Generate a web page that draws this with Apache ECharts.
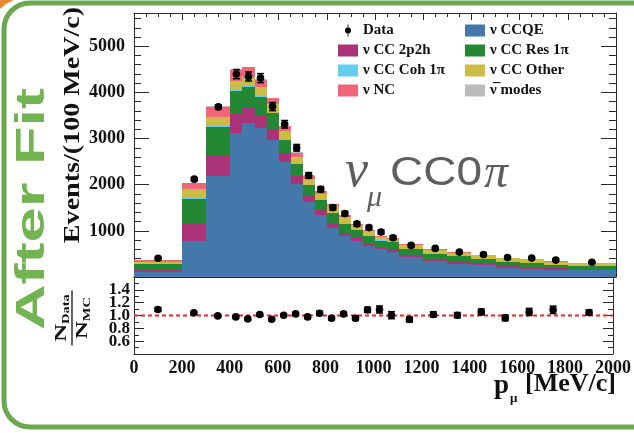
<!DOCTYPE html>
<html><head><meta charset="utf-8">
<script src="https://cdn.jsdelivr.net/npm/echarts@6/dist/echarts.min.js"></script>
<style>html,body{margin:0;padding:0;background:#fff}#c{width:634px;height:433px}</style>
</head><body><div id="c"></div>
<script>
// ---- data ----
const binEdges = [0,200,300,400,450,500,550,600,650,700,750,800,850,900,950,1000,1050,1100,1200,1300,1400,1500,1600,1700,1800,2000];
const ccqe    = [105,787,2185,3113,3331,3222,2967,2496,2011,1626,1337,1070,880,790,663,600,550,430,337,290,250,199,178,156,150];
const cc2p2h  = [60,370,441,413,339,289,233,182,174,131,109,100,81,76,59,55,55,50,43,40,36,37,36,36,30];
const ccRes   = [115,543,631,507,456,398,348,289,254,232,232,217,196,152,174,135,145,130,124,115,109,86,94,72,52];
const ccCoh   = [1,6,8,8,7,6,5,4,4,3,3,2,2,2,2,1,1,1,1,1,1,0,0,0,0];
const ccOther = [54,190,209,216,197,211,197,199,162,134,128,144,141,98,91,69,69,89,90,84,74,83,75,64,66];
const ncVals  = [40,140,210,230,210,150,125,100,85,70,55,45,38,32,28,25,22,18,15,13,11,10,9,8,7];
const antiNu  = [3,10,15,18,18,16,14,12,10,8,7,6,5,5,4,4,4,3,3,3,2,2,2,2,2];
const dataVals = [406,2120,3685,4396,4344,4309,3692,3309,2800,2200,1902,1504,1374,1150,1070,974,852,685,620,540,489,424,409,366,318];
const dataErr  = [10,32,45,100,98,98,88,82,72,62,58,52,50,46,45,44,41,26,25,23,22,20,20,19,13];
const ratioVals = [1.094,1.041,0.994,0.978,0.947,1.016,0.942,1.005,1.025,0.978,1.036,0.958,1.025,0.958,1.088,1.094,1.005,0.938,1.016,1.005,1.056,0.962,1.056,1.088,1.047];
const ratioErr  = [0.03,0.02,0.02,0.02,0.02,0.02,0.02,0.02,0.025,0.025,0.03,0.03,0.03,0.035,0.04,0.055,0.055,0.04,0.04,0.04,0.045,0.045,0.055,0.058,0.04];
const yTickLabels = ['1000','2000','3000','4000','5000'];
const rTickLabels = ['0.6','0.8','1.0','1.2','1.4'];

const components = [
  {name:'ν CCQE',       vals: ccqe,    color:'#4477AA'},
  {name:'ν CC 2p2h',    vals: cc2p2h,  color:'#AA3377'},
  {name:'ν CC Res 1π',  vals: ccRes,   color:'#228833'},
  {name:'ν CC Coh 1π',  vals: ccCoh,   color:'#66CCEE'},
  {name:'ν CC Other',   vals: ccOther, color:'#CCBB44'},
  {name:'ν NC',         vals: ncVals,  color:'#EE6677'},
  {name:'antinu',       vals: antiNu,  color:'#BBBBBB'}
];

const serif = '"Liberation Serif","DejaVu Serif",serif';
const frameCol = '#2a2a2a';

function histItem(params, api){
  const a = api.coord([api.value(0), api.value(3)]);
  const b = api.coord([api.value(1), api.value(2)]);
  const x0 = Math.round(a[0]), x1 = Math.round(b[0]);
  const y0 = Math.round(a[1]), y1 = Math.round(b[1]);
  return {type:'rect', shape:{x:x0, y:y0, width:x1-x0, height:y1-y0}, style:{fill:api.visual('color')}};
}
function pointItem(params, api){
  const x = api.value(0), v = api.value(1), e = api.value(2);
  const c = api.coord([x, v]);
  const hi = api.coord([x, v+e]);
  const lo = api.coord([x, v-e]);
  return {type:'group', children:[
    {type:'line', shape:{x1:c[0], y1:hi[1], x2:c[0], y2:lo[1]}, style:{stroke:'#000', lineWidth:2}},
    {type:'line', shape:{x1:c[0]-3.5, y1:hi[1], x2:c[0]+3.5, y2:hi[1]}, style:{stroke:'#000', lineWidth:1.5}},
    {type:'line', shape:{x1:c[0]-3.5, y1:lo[1], x2:c[0]+3.5, y2:lo[1]}, style:{stroke:'#000', lineWidth:1.5}},
    {type:'circle', shape:{cx:c[0], cy:c[1], r:3.8}, style:{fill:'#000'}}
  ]};
}

const series = [];
const cum = binEdges.slice(1).map(()=>0);
components.forEach(comp=>{
  const d = comp.vals.map((v,i)=>{
    const lo = cum[i]; cum[i] += v;
    return [binEdges[i], binEdges[i+1], lo, cum[i]];
  });
  series.push({type:'custom', name:comp.name, xAxisIndex:0, yAxisIndex:0, renderItem:histItem,
    itemStyle:{color:comp.color}, data:d, clip:true, silent:true, encode:{x:[0,1], y:[2,3]}});
});
const centers = binEdges.slice(1).map((e,i)=>(binEdges[i]+e)/2);
series.push({type:'custom', name:'Data', xAxisIndex:0, yAxisIndex:0, renderItem:pointItem,
  itemStyle:{color:'#000'}, data:dataVals.map((v,i)=>[centers[i], v, dataErr[i]]), z:5, clip:true, encode:{x:0,y:1}});
series.push({type:'line', xAxisIndex:2, yAxisIndex:2, data:[[0,1],[2000,1]], symbol:'none', silent:true,
  lineStyle:{color:'#e8262b', width:2.2, type:[4,3]}, z:2});
series.push({type:'custom', name:'ratio', xAxisIndex:2, yAxisIndex:2, renderItem:pointItem,
  itemStyle:{color:'#000'}, data:ratioVals.map((v,i)=>[centers[i], v, ratioErr[i]]), z:5, clip:true, encode:{x:0,y:1}});

const dataIcon = 'path://M4.3,0h1.4v5h-1.4z M4.3,15h1.4v5h-1.4z M0,10a5,5 0 1,0 10,0a5,5 0 1,0 -10,0z';
const legendText = {fontFamily:serif, fontWeight:'bold', fontSize:15, color:'#111'};

function xAxisBase(grid, pos, labels, ticks){
  return {type:'value', gridIndex:grid, position:pos, min:0, max:2000, interval:200,
    axisLine:{show:true, onZero:false, lineStyle:{color:frameCol, width:1}},
    axisTick:{show:ticks, inside:true, length:7, lineStyle:{color:frameCol}},
    minorTick:{show:ticks, splitNumber:4, length:4, lineStyle:{color:frameCol}},
    splitLine:{show:false}, minorSplitLine:{show:false},
    axisLabel:{show:labels, margin:5, fontFamily:serif, fontWeight:'bold', fontSize:18, color:'#111',
      formatter:v=>String(Math.round(v))}};
}

const option = {
  animation:false,
  backgroundColor:'#fff',
  grid:[{left:134, right:18, top:13, height:264},{left:134, right:18, top:277, height:77}],
  xAxis:[xAxisBase(0,'bottom',false,true), xAxisBase(0,'top',false,true),
         xAxisBase(1,'bottom',true,false), xAxisBase(1,'top',false,false)],
  yAxis:[
    {type:'value', gridIndex:0, position:'left', min:0, max:5720, interval:1000,
     axisLine:{show:true, onZero:false, lineStyle:{color:frameCol}},
     axisTick:{show:true, inside:true, length:15, lineStyle:{color:frameCol}},
     minorTick:{show:true, splitNumber:5, length:7, lineStyle:{color:frameCol}},
     splitLine:{show:false},
     axisLabel:{margin:9, fontFamily:serif, fontWeight:'bold', fontSize:18, color:'#111',
       formatter:v=>{const s=String(Math.round(v)); return yTickLabels.indexOf(s)>=0?s:'';}}},
    {type:'value', gridIndex:0, position:'right', min:0, max:5720, interval:1000,
     axisLine:{show:true, onZero:false, lineStyle:{color:frameCol}},
     axisTick:{show:true, inside:true, length:15, lineStyle:{color:frameCol}},
     minorTick:{show:true, splitNumber:5, length:7, lineStyle:{color:frameCol}},
     splitLine:{show:false}, axisLabel:{show:false}},
    {type:'value', gridIndex:1, position:'left', min:0.4, max:1.6, interval:0.2,
     axisLine:{show:true, onZero:false, lineStyle:{color:frameCol}},
     axisTick:{show:true, inside:true, length:10, lineStyle:{color:frameCol}},
     minorTick:{show:true, splitNumber:2, length:5, lineStyle:{color:frameCol}},
     splitLine:{show:false},
     axisLabel:{margin:4, fontFamily:serif, fontWeight:'bold', fontSize:17, color:'#111',
       formatter:v=>{const s=v.toFixed(1); return rTickLabels.indexOf(s)>=0?s:'';}}},
    {type:'value', gridIndex:1, position:'right', min:0.4, max:1.6, interval:0.2,
     axisLine:{show:true, onZero:false, lineStyle:{color:frameCol}},
     axisTick:{show:true, inside:true, length:10, lineStyle:{color:frameCol}},
     minorTick:{show:true, splitNumber:2, length:5, lineStyle:{color:frameCol}},
     splitLine:{show:false}, axisLabel:{show:false}}
  ],
  legend:[
    {orient:'vertical', left:333, top:18, itemWidth:20, itemHeight:12, itemGap:5, selectedMode:false,
     textStyle:legendText,
     data:[{name:'Data', icon:dataIcon}, {name:'ν CC 2p2h', icon:'rect'}, {name:'ν CC Coh 1π', icon:'rect'}, {name:'ν NC', icon:'rect'}]},
    {orient:'vertical', left:460, top:18, itemWidth:20, itemHeight:12, itemGap:5, selectedMode:false,
     textStyle:legendText,
     formatter:n=> n==='antinu' ? 'ν\u0305 modes' : n,
     data:[{name:'ν CCQE', icon:'rect'}, {name:'ν CC Res 1π', icon:'rect'}, {name:'ν CC Other', icon:'rect'}, {name:'antinu', icon:'rect'}]}
  ],
  graphic:[
    {type:'rect', shape:{x:4, y:3, width:700, height:424, r:26}, style:{fill:'none', stroke:'#6aa84f', lineWidth:5}, z:-10},
    {type:'polygon', shape:{points:[[0,0],[14,0],[6,4],[0,9]]}, style:{fill:'#e8893a'}, z:-9},
    {type:'text', x:33, y:209, rotation:Math.PI/2, scaleX:1.58,
     style:{text:'After Fit', font:'bold 40px "Liberation Sans", Arial, sans-serif', fill:'#72b452', align:'center', verticalAlign:'middle', textAlign:'center', textVerticalAlign:'middle'}},
    {type:'text', x:73, y:125, rotation:Math.PI/2, scaleX:1.17,
     style:{text:'Events/(100 MeV/c)', font:'bold 24px '+serif, fill:'#111', align:'center', verticalAlign:'middle', textAlign:'center', textVerticalAlign:'middle'}},
    {type:'group', x:72, y:318, rotation:Math.PI/2, scaleX:1.45, children:[
      {type:'text', x:0, y:-1, style:{text:'{n|N}{s|Data}', rich:{n:{font:'bold 17px '+serif, fill:'#111'}, s:{font:'bold 10px '+serif, fill:'#111', padding:[9,0,0,0]}}, align:'center', verticalAlign:'bottom', textAlign:'center', textVerticalAlign:'bottom'}},
      {type:'line', shape:{x1:-19, y1:0, x2:19, y2:0}, style:{stroke:'#111', lineWidth:1.3}},
      {type:'text', x:0, y:1, style:{text:'{n|N}{s|MC}', rich:{n:{font:'bold 17px '+serif, fill:'#111'}, s:{font:'bold 10px '+serif, fill:'#111', padding:[9,0,0,0]}}, align:'center', verticalAlign:'top', textAlign:'center', textVerticalAlign:'top'}}
    ]},
    {type:'text', x:494, y:386, style:{text:'p', font:'bold 27px '+serif, fill:'#111', align:'left', verticalAlign:'middle', textAlign:'left', textVerticalAlign:'middle'}},
    {type:'text', x:510, y:399, style:{text:'μ', font:'bold 13px '+serif, fill:'#111', align:'left', verticalAlign:'middle', textAlign:'left', textVerticalAlign:'middle'}},
    {type:'text', x:525, y:384, style:{text:'[MeV/c]', font:'bold 26px '+serif, fill:'#111', align:'left', verticalAlign:'middle', textAlign:'left', textVerticalAlign:'middle'}},
    {type:'text', x:345, y:172, style:{text:'ν', font:'italic 52px '+serif, fill:'#5e5e5e', align:'left', verticalAlign:'middle', textAlign:'left', textVerticalAlign:'middle'}},
    {type:'text', x:367, y:198, style:{text:'μ', font:'italic 30px '+serif, fill:'#5e5e5e', align:'left', verticalAlign:'middle', textAlign:'left', textVerticalAlign:'middle'}},
    {type:'text', x:390, y:174, scaleX:1.15, style:{text:'CC0', font:'40px "Liberation Sans", Arial, sans-serif', fill:'#5e5e5e', align:'left', verticalAlign:'middle', textAlign:'left', textVerticalAlign:'middle'}},
    {type:'text', x:484, y:174, style:{text:'π', font:'italic 48px '+serif, fill:'#5e5e5e', align:'left', verticalAlign:'middle', textAlign:'left', textVerticalAlign:'middle'}}
  ],
  series:series
};
const chart = echarts.init(document.getElementById('c'));
chart.setOption(option);
</script></body></html>
